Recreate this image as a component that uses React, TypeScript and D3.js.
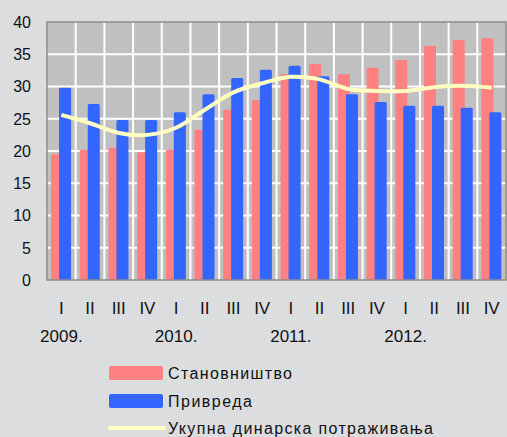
import { useEffect, useRef } from "react";
import * as d3 from "d3";

const quarters = ["I", "II", "III", "IV", "I", "II", "III", "IV", "I", "II", "III", "IV", "I", "II", "III", "IV"];
const years = ["2009.", "2010.", "2011.", "2012."];
const households = [19.5, 20.2, 20.5, 19.8, 20.2, 23.3, 26.4, 27.9, 31.9, 33.5, 31.9, 32.9, 34.1, 36.3, 37.2, 37.5];
const corporates = [29.8, 27.3, 24.8, 24.8, 26.0, 28.8, 31.3, 32.6, 33.2, 31.6, 28.8, 27.6, 27.0, 27.0, 26.7, 26.0];
const total = [25.6, 24.3, 22.8, 22.5, 23.6, 26.4, 29.1, 30.5, 31.5, 31.1, 29.6, 29.3, 29.3, 29.9, 30.1, 29.8];
const yTicks = [0, 5, 10, 15, 20, 25, 30, 35, 40];
const legendLabels = ["Становништво", "Привреда", "Укупна динарска потраживања"];

const W = 507;
const H = 437;
const PINK = "#ff8080";
const BLUE = "#3366ff";
const YELLOW = "#ffffc0";
const FONT = "Arial, 'Liberation Sans', sans-serif";

export default function App() {
  const svgRef = useRef<SVGSVGElement | null>(null);

  useEffect(() => {
    const svg = d3.select(svgRef.current);
    svg.selectAll("*").remove();

    const left = 47, right = 506, top = 22, bottom = 280;
    const idx = quarters.map((_, i) => i);
    const x = d3.scaleBand<number>().domain(idx).range([left, right]).padding(0);
    const y = d3.scaleLinear().domain([0, 40]).range([bottom, top]);
    const bw = x.bandwidth();

    svg.append("rect").attr("width", W).attr("height", H).attr("fill", "#dcdddf");
    svg.append("rect")
      .attr("x", left).attr("y", top).attr("width", right - left).attr("height", bottom - top)
      .attr("fill", "#c0c0c0");

    // grid
    const grid = svg.append("g").attr("stroke", "#ffffff").attr("stroke-width", 2);
    grid.selectAll("line.h").data(yTicks.slice(1, -1)).join("line")
      .attr("x1", left).attr("x2", right).attr("y1", d => y(d)).attr("y2", d => y(d));
    grid.selectAll("line.v").data(idx.slice(1)).join("line")
      .attr("x1", d => x(d)!).attr("x2", d => x(d)!).attr("y1", top).attr("y2", bottom);

    // bars
    const barW = bw * 0.42;
    svg.append("g").selectAll("rect").data(households).join("rect")
      .attr("x", (_, i) => x(i)! + bw * 0.14)
      .attr("y", d => y(d))
      .attr("width", barW)
      .attr("height", d => bottom - y(d))
      .attr("rx", 1.5)
      .attr("fill", PINK);
    svg.append("g").selectAll("rect").data(corporates).join("rect")
      .attr("x", (_, i) => x(i)! + bw * 0.42)
      .attr("y", d => y(d))
      .attr("width", barW)
      .attr("height", d => bottom - y(d))
      .attr("rx", 1.5)
      .attr("fill", BLUE);

    // line
    const line = d3.line<number>()
      .x((_, i) => x(i)! + bw / 2)
      .y(d => y(d))
      .curve(d3.curveCatmullRom.alpha(0.5));
    svg.append("path").datum(total)
      .attr("d", line)
      .attr("fill", "none")
      .attr("stroke", YELLOW)
      .attr("stroke-width", 4)
      .attr("stroke-linejoin", "round");

    // frame
    svg.append("rect")
      .attr("x", left).attr("y", top).attr("width", right - left).attr("height", bottom - top)
      .attr("fill", "none").attr("stroke", "#8c8c8c").attr("stroke-width", 1.5);

    // y labels
    svg.append("g").selectAll("text").data(yTicks).join("text")
      .attr("x", 31).attr("y", d => y(d)).attr("dy", "0.36em")
      .attr("text-anchor", "end")
      .attr("font-family", FONT).attr("font-size", 16).attr("fill", "#111")
      .text(d => d);

    // x labels
    svg.append("g").selectAll("text").data(quarters).join("text")
      .attr("x", (_, i) => x(i)! + bw / 2).attr("y", 314)
      .attr("text-anchor", "middle")
      .attr("font-family", FONT).attr("font-size", 17).attr("fill", "#111")
      .text(d => d);
    svg.append("g").selectAll("text").data(years).join("text")
      .attr("x", (_, i) => x(i * 4)! + bw / 2).attr("y", 342)
      .attr("text-anchor", "middle")
      .attr("font-family", FONT).attr("font-size", 17).attr("fill", "#111")
      .text(d => d);

    // legend
    const lg = svg.append("g");
    lg.append("rect").attr("x", 109).attr("y", 366).attr("width", 54).attr("height", 14).attr("rx", 2).attr("fill", PINK);
    lg.append("rect").attr("x", 109).attr("y", 394).attr("width", 54).attr("height", 14).attr("rx", 2).attr("fill", BLUE);
    lg.append("line").attr("x1", 110).attr("x2", 164).attr("y1", 428).attr("y2", 428)
      .attr("stroke", YELLOW).attr("stroke-width", 4).attr("stroke-linecap", "round");
    const legendWidths = [124, 84, 265];
    lg.selectAll("text").data(legendLabels).join("text")
      .attr("x", 168).attr("y", (_, i) => [379, 407, 434][i])
      .attr("textLength", (_, i) => legendWidths[i])
      .attr("lengthAdjust", "spacing")
      .attr("font-family", FONT).attr("font-size", 16).attr("fill", "#111")
      .text(d => d);
  }, []);

  return (
    <svg ref={svgRef} width={W} height={H} style={{ position: "absolute", left: 0, top: 0 }} />
  );
}
